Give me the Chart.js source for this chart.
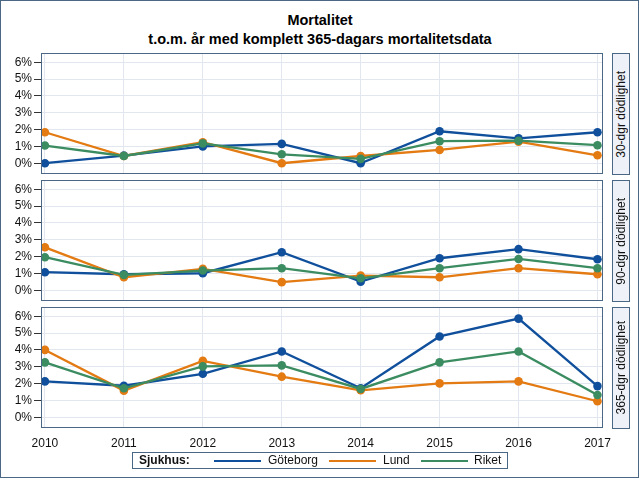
<!DOCTYPE html>
<html>
<head>
<meta charset="utf-8">
<script src="https://cdn.jsdelivr.net/npm/chart.js@4.4.1/dist/chart.umd.min.js"></script>
<style>
body { margin: 0; background: #fff; font-family: "Liberation Sans", Arial, sans-serif; }
#page { position: relative; width: 640px; height: 480px; overflow: hidden; }
#bord { position: absolute; left: 0; top: 0; width: 637px; height: 476px; border: 1px solid #4a6785; }
.titre { position: absolute; left: 0; width: 640px; text-align: center; font-weight: bold; font-size: 14.5px; color: #000; line-height: 18px; }
canvas { position: absolute; left: 0; }
.bande { position: absolute; left: 612px; width: 16px; height: 120px; background: #eef2f8; border: 1px solid #4a6785;
         display: flex; align-items: center; justify-content: center; }
.bande span { writing-mode: vertical-rl; transform: rotate(180deg); font-size: 12px; color: #111; white-space: nowrap; }
#legende { position: absolute; left: 132px; top: 452px; width: 374px; height: 15px; border: 1px solid #4a6785; font-size: 12px; color: #111; }
#legende .lib { position: absolute; top: 0; line-height: 15px; }
#legende .trait { position: absolute; top: 7px; height: 2px; width: 47px; }
</style>
</head>
<body>
<div id="page">
  <div id="bord"></div>
  <div class="titre" style="top:11px">Mortalitet</div>
  <div class="titre" style="top:30px">t.o.m. år med komplett 365-dagars mortalitetsdata</div>
  <canvas id="g0" width="640" height="141" style="top:43px"></canvas>
  <canvas id="g1" width="640" height="141" style="top:170px"></canvas>
  <canvas id="g2" width="640" height="156" style="top:297px"></canvas>
  <div class="bande" style="top:53px"><span>30-dgr dödlighet</span></div>
  <div class="bande" style="top:180px"><span>90-dgr dödlighet</span></div>
  <div class="bande" style="top:307px"><span>365-dgr dödlighet</span></div>
  <div id="legende"></div>
</div>
<script>
// données
const annees = [2010, 2011, 2012, 2013, 2014, 2015, 2016, 2017];
const sjukhus = ['Göteborg', 'Lund', 'Riket'];
const couleurs = ['#0f4f9b', '#e37a12', '#3b8c60'];
const pourcentTicks = [0, 1, 2, 3, 4, 5, 6];
const panneaux = ['30-dgr dödlighet', '90-dgr dödlighet', '365-dgr dödlighet'];

const goteborg30 = [0, 0.45, 1.0, 1.15, 0, 1.9, 1.48, 1.84];
const lund30     = [1.84, 0.43, 1.25, 0, 0.43, 0.79, 1.28, 0.47];
const riket30    = [1.05, 0.43, 1.18, 0.53, 0.26, 1.31, 1.34, 1.07];

const goteborg90 = [1.07, 0.95, 1.01, 2.26, 0.51, 1.9, 2.44, 1.84];
const lund90     = [2.55, 0.77, 1.27, 0.48, 0.87, 0.77, 1.31, 0.95];
const riket90    = [1.96, 0.91, 1.17, 1.31, 0.71, 1.31, 1.86, 1.31];

const goteborg365 = [2.13, 1.87, 2.58, 3.91, 1.72, 4.8, 5.86, 1.85];
const lund365     = [4.0, 1.58, 3.35, 2.41, 1.6, 2.01, 2.13, 0.95];
const riket365    = [3.26, 1.72, 3.02, 3.08, 1.68, 3.26, 3.91, 1.32];

const valeurs = [
    [goteborg30, lund30, riket30],
    [goteborg90, lund90, riket90],
    [goteborg365, lund365, riket365]
];

const couleurCadre = '#4a6785';

Chart.defaults.font.family = '"Liberation Sans", Arial, sans-serif';
Chart.defaults.font.size = 12;
Chart.defaults.color = '#111';

// cadre autour de la zone du graphique
const cadre = {
    id: 'cadre',
    afterDraw(chart) {
        const { ctx, chartArea: a } = chart;
        ctx.save();
        ctx.strokeStyle = couleurCadre;
        ctx.lineWidth = 1;
        ctx.strokeRect(Math.round(a.left) + 0.5, Math.round(a.top) + 0.5,
                       Math.round(a.width) - 1, Math.round(a.height) - 1);
        ctx.restore();
    }
};

function graphique(id, series, dernier) {
    const datasets = series.map((vals, i) => ({
        label: sjukhus[i],
        data: annees.map((a, j) => ({ x: a, y: vals[j] })),
        borderColor: couleurs[i],
        backgroundColor: couleurs[i],
        pointBackgroundColor: couleurs[i],
        pointBorderColor: couleurs[i],
        pointRadius: 4.3,
        pointBorderWidth: 0,
        borderWidth: 2.3,
        tension: 0,
        order: 2 - i
    }));

    return new Chart(document.getElementById(id), {
        type: 'line',
        data: { datasets: datasets },
        options: {
            responsive: false,
            animation: false,
            layout: { padding: { left: 0, right: 37, top: 10, bottom: dernier ? 0 : 10 } },
            plugins: { legend: { display: false }, tooltip: { enabled: false } },
            scales: {
                x: {
                    type: 'linear',
                    min: 2009.95,
                    max: 2017.07,
                    afterBuildTicks: s => { s.ticks = annees.map(v => ({ value: v })); },
                    afterFit: s => { s.height = dernier ? 25 : 0; },
                    grid: { color: '#e2e6ee', drawTicks: false },
                    border: { display: false },
                    ticks: {
                        display: dernier,
                        padding: 8,
                        color: '#111',
                        callback: v => String(v)
                    }
                },
                y: {
                    min: -0.64,
                    max: 6.55,
                    afterBuildTicks: s => { s.ticks = pourcentTicks.map(v => ({ value: v })); },
                    afterFit: s => { s.width = 41; },
                    grid: { color: '#e2e6ee', tickColor: '#333', tickLength: 7 },
                    border: { display: false },
                    ticks: { padding: 2, color: '#111', callback: v => v + '%' }
                }
            }
        },
        plugins: [cadre]
    });
}

valeurs.forEach((series, k) => graphique('g' + k, series, k === 2));

// légende
const legende = document.getElementById('legende');
const positions = [[81, 135], [196, 250], [288, 341]];
let html = '<span class="lib" style="left:6px;font-weight:bold">Sjukhus:</span>';
sjukhus.forEach((nom, i) => {
    html += `<div class="trait" style="left:${positions[i][0]}px;background:${couleurs[i]}"></div>`;
    html += `<span class="lib" style="left:${positions[i][1]}px">${nom}</span>`;
});
legende.innerHTML = html;
</script>
</body>
</html>
